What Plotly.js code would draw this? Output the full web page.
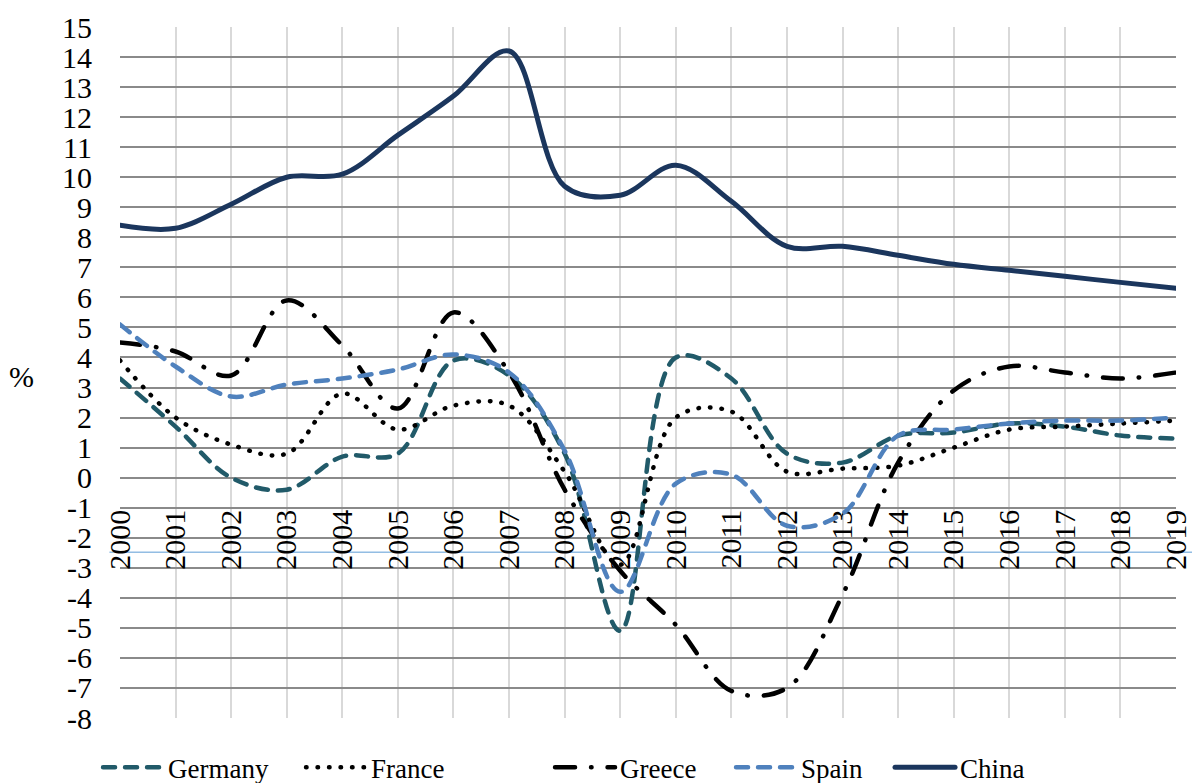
<!DOCTYPE html>
<html>
<head>
<meta charset="utf-8">
<script src="https://cdn.plot.ly/plotly-3.0.1.min.js"></script>
<style>
html,body{margin:0;padding:0;background:#fff;}
#chart{width:1192px;height:783px;font-family:'Liberation Serif';}
.js-line{stroke-linecap:round !important;}
</style>
</head>
<body>
<div id="chart"></div>
<script>
const years = [2000,2001,2002,2003,2004,2005,2006,2007,2008,2009,2010,2011,2012,2013,2014,2015,2016,2017,2018,2019];
const yearLabels = years.map(String);
const germany = [3.3,1.7,0.0,-0.4,0.7,0.8,3.9,3.4,0.8,-5.1,4.0,3.3,0.8,0.5,1.4,1.5,1.8,1.7,1.4,1.3];
const france  = [3.9,2.0,1.1,0.8,2.8,1.6,2.4,2.4,0.2,-2.9,2.0,2.2,0.2,0.3,0.4,1.0,1.6,1.7,1.8,1.9];
const greece  = [4.5,4.2,3.4,5.9,4.4,2.3,5.5,3.5,-0.4,-3.1,-4.9,-7.1,-7.0,-3.9,0.5,2.9,3.7,3.5,3.3,3.5];
const spain   = [5.1,3.7,2.7,3.1,3.3,3.6,4.1,3.5,0.9,-3.8,-0.2,0.1,-1.6,-1.2,1.4,1.6,1.8,1.9,1.9,2.0];
const china   = [8.4,8.3,9.1,10.0,10.1,11.4,12.7,14.2,9.7,9.4,10.4,9.2,7.7,7.7,7.4,7.1,6.9,6.7,6.5,6.3];
const yTicks = [-8,-7,-6,-5,-4,-3,-2,-1,0,1,2,3,4,5,6,7,8,9,10,11,12,13,14,15];

const FONT = "Liberation Serif";

function tr(name, y, color, width, dash, lw){
  return {x: years, y: y, name: name, type:'scatter', mode:'lines',
    line:{color: color, width: width, dash: dash, shape:'spline', smoothing:1},
    legendwidth: lw, hoverinfo:'skip'};
}
const data = [
  tr('Germany', germany, '#215a69', 4.5, '12px,10px', 128),
  tr('France', france, '#000000', 4.5, '0.5px,11px', 174),
  tr('Greece', greece, '#000000', 4.5, '20px,16px,0.5px,16px', 106),
  tr('Spain', spain, '#4f81bd', 4.5, '12px,10px', 84),
  tr('China', china, '#1b365d', 5, 'solid', 100)
];

const layout = {
  width:1192, height:783,
  margin:{l:120, r:16, t:27, b:65, autoexpand:false},
  paper_bgcolor:'#fff', plot_bgcolor:'#fff',
  font:{family:FONT, size:30, color:'#000'},
  showlegend:true,
  legend:{orientation:'h', x:-0.0208, xanchor:'left', y:-0.072, yanchor:'middle', itemwidth:60,
    font:{family:FONT, size:27, color:'#000'}, bgcolor:'rgba(0,0,0,0)', tracegroupgap:0},
  xaxis:{range:[2000,2019], tickvals: years, ticktext: yearLabels, tickangle:-90,
    anchor:'free', position: 0.3116, showline:false, zeroline:false,
    showgrid:true, gridcolor:'#d9d9d9', gridwidth:2, ticks:'', layer:'below traces',
    tickfont:{family:FONT, size:30, color:'#000'}, ticklabelstandoff:0},
  yaxis:{range:[-8,15], tickvals: yTicks, ticktext: yTicks.map(String), showgrid:true,
    gridcolor:'#8a8a8a', gridwidth:2, zeroline:false, showline:false, ticks:'',
    ticklabelstandoff:27, tickfont:{family:FONT, size:30, color:'#000'}},
  shapes:[{type:'line', xref:'paper', yref:'y', x0:-0.01, x1:1.02, y0:-2.48, y1:-2.48,
    line:{color:'#5b9bd5', width:1}, layer:'below'}],
  annotations:[{text:'%', xref:'paper', yref:'paper', x:-0.093, y:0.4935, xanchor:'center', yanchor:'middle',
    showarrow:false, font:{family:FONT, size:30, color:'#000'}}]
};

function draw(){ Plotly.newPlot('chart', data, layout, {displayModeBar:false}); }
if (document.fonts && document.fonts.load) {
  document.fonts.load('28px "Liberation Serif"').then(draw, draw);
} else { draw(); }
</script>
</body>
</html>
